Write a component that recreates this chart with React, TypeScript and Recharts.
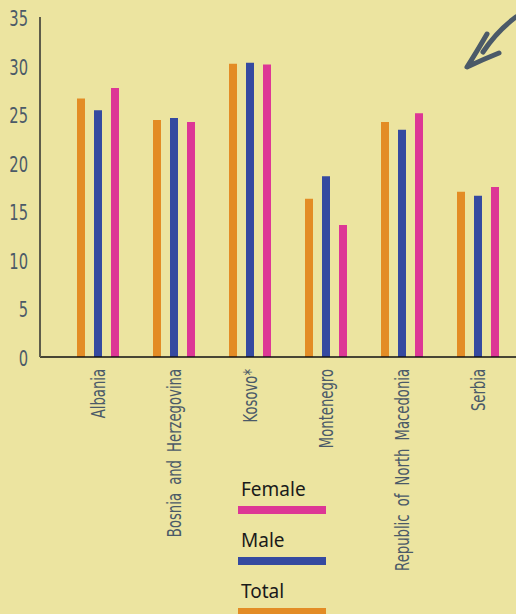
import { BarChart, Bar, XAxis, YAxis, Legend, Customized } from "recharts";

const countries = [
  "Albania",
  "Bosnia and Herzegovina",
  "Kosovo*",
  "Montenegro",
  "Republic of North Macedonia",
  "Serbia",
];
const total = [26.6, 24.4, 30.2, 16.3, 24.2, 17.0];
const male = [25.4, 24.6, 30.3, 18.6, 23.4, 16.6];
const female = [27.7, 24.2, 30.1, 13.6, 25.1, 17.5];
const yTicks = [0, 5, 10, 15, 20, 25, 30, 35];
const legendOrder = ["Female", "Male", "Total"];

const data = countries.map((name, i) => ({
  name,
  total: total[i],
  male: male[i],
  female: female[i],
}));

const BG = "#ECE4A0";
const INK = "#4b5a68";
const FONT = '"DejaVu Sans", sans-serif';

// the source uses a tall condensed face, so squeeze the glyphs sideways
function CountryTick({ x, y, payload }: any) {
  return (
    <text
      transform={`translate(${x}, ${y}) rotate(-90) scale(0.66, 1)`}
      textAnchor="end"
      dy="0.36em"
      fill={INK}
      fontFamily={FONT}
      fontSize={20}
      style={{ wordSpacing: 6 }}
    >
      {payload.value}
    </text>
  );
}

function ValueTick({ x, y, payload }: any) {
  return (
    <text
      transform={`translate(${x}, ${y}) scale(0.7, 1)`}
      textAnchor="end"
      dy={9}
      fill={INK}
      fontFamily={FONT}
      fontSize={21}
    >
      {payload.value}
    </text>
  );
}

function LegendBox({ payload }: any) {
  const items = [...(payload || [])].sort(
    (a: any, b: any) => legendOrder.indexOf(a.value) - legendOrder.indexOf(b.value)
  );
  return (
    <div style={{ width: 88 }}>
      {items.map((it: any) => (
        <div key={it.value} style={{ height: 51 }}>
          <div
            style={{
              fontFamily: '"Noto Sans", sans-serif',
              fontSize: 19,
              lineHeight: "22px",
              color: "#1a1a1a",
              paddingLeft: 3,
            }}
          >
            {it.value}
          </div>
          <div style={{ marginTop: 6, height: 8, background: it.color }} />
        </div>
      ))}
    </div>
  );
}

function Arrow() {
  return (
    <g fill="none" stroke={INK} strokeWidth={5} strokeLinecap="round" strokeLinejoin="round">
      <path d="M516,17 Q497,31 483,52" />
      <path d="M487,34 Q476,53 467,67 Q484,59 499,53" />
    </g>
  );
}

export default function App() {
  return (
    <div
      style={{
        position: "absolute",
        left: 0,
        top: 0,
        width: 516,
        height: 614,
        background: BG,
        overflow: "hidden",
      }}
    >
      <BarChart
        width={516}
        height={614}
        data={data}
        margin={{ top: 17, right: 0, bottom: 0, left: 0 }}
        barSize={8}
        barGap={9}
      >
        <XAxis
          dataKey="name"
          height={257}
          interval={0}
          padding={{ left: 20, right: 0 }}
          axisLine={{ stroke: "#111", strokeWidth: 1.5 }}
          tickLine={false}
          tickSize={0}
          tickMargin={12}
          tick={<CountryTick />}
        />
        <YAxis
          width={40}
          domain={[0, 35]}
          ticks={yTicks}
          interval={0}
          axisLine={{ stroke: "#5e5c4a", strokeWidth: 2 }}
          tickLine={false}
          tickSize={0}
          tickMargin={12}
          tick={<ValueTick />}
        />
        <Bar dataKey="total" name="Total" fill="#E38C25" isAnimationActive={false} />
        <Bar dataKey="male" name="Male" fill="#354AA0" isAnimationActive={false} />
        <Bar dataKey="female" name="Female" fill="#DD3795" isAnimationActive={false} />
        <Legend
          layout="vertical"
          align="center"
          verticalAlign="middle"
          content={<LegendBox />}
          wrapperStyle={{ left: 238, top: 478, width: 88 }}
        />
        <Customized component={<Arrow />} />
      </BarChart>
    </div>
  );
}
